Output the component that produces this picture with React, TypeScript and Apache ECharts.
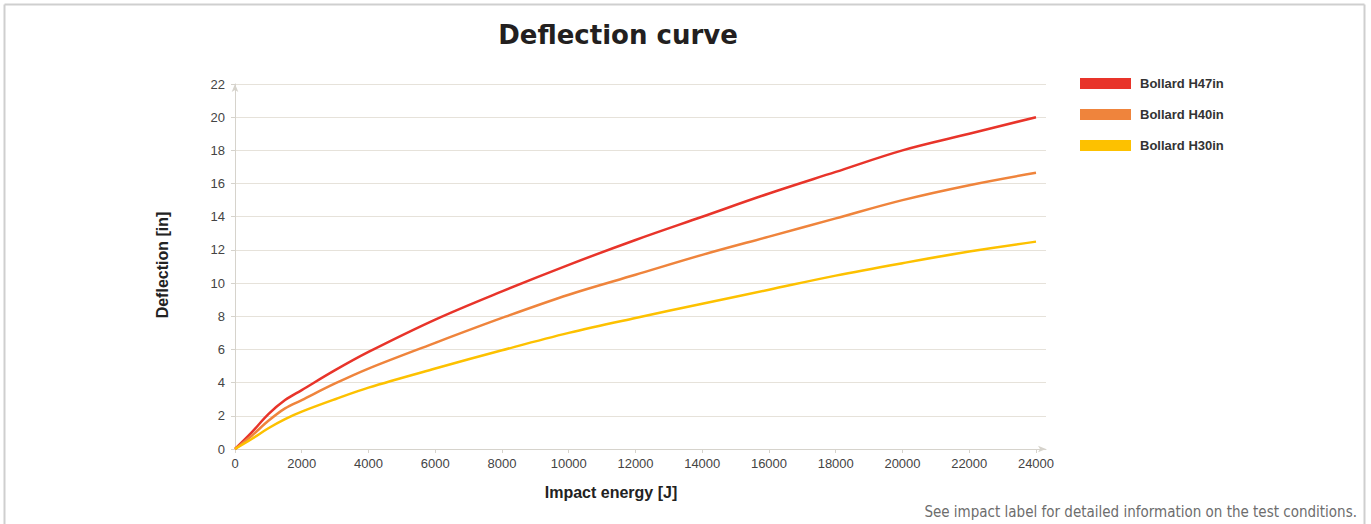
import React, { useEffect, useRef } from "react";
import * as echarts from "echarts";

const energy = [0, 500, 1000, 1500, 2000, 3000, 4000, 6000, 8000, 10000, 12000, 14000, 16000, 18000, 20000, 22000, 24000];
const h47 = [0, 1.0, 2.1, 2.95, 3.55, 4.75, 5.85, 7.8, 9.5, 11.1, 12.6, 14.0, 15.4, 16.7, 18.0, 19.0, 20.0];
const h40 = [0, 0.8, 1.7, 2.45, 2.95, 3.95, 4.85, 6.4, 7.9, 9.3, 10.5, 11.7, 12.8, 13.9, 15.0, 15.9, 16.65];
const h30 = [0, 0.6, 1.25, 1.8, 2.25, 3.0, 3.7, 4.85, 5.95, 7.0, 7.9, 8.75, 9.6, 10.45, 11.2, 11.9, 12.5];
const seriesNames = ["Bollard H47in", "Bollard H40in", "Bollard H30in"];
const seriesColors = ["#e8342a", "#ef843c", "#fdc100"];
const xTicks = [0, 2000, 4000, 6000, 8000, 10000, 12000, 14000, 16000, 18000, 20000, 22000, 24000];
const title = "Deflection curve";
const xName = "Impact energy [J]";
const yName = "Deflection [in]";
const note = "See impact label for detailed information on the test conditions.";

export default function App() {
  const ref = useRef<HTMLDivElement>(null);
  useEffect(() => {
    document.body.style.margin = "0";
    const chart = echarts.init(ref.current!, null, { renderer: "svg" });
    const values = [h47, h40, h30];
    chart.setOption({
      animation: false,
      backgroundColor: "#ffffff",
      grid: { left: 235, right: 325, top: 84, bottom: 75, containLabel: false },
      legend: {
        orient: "vertical",
        left: 1075,
        top: 72,
        itemWidth: 51,
        itemHeight: 11,
        itemGap: 18,
        icon: "rect",
        textStyle: { fontFamily: "Liberation Sans", fontWeight: "bold", fontSize: 13, color: "#333", padding: [0, 0, 0, 4] },
        data: seriesNames,
      },
      xAxis: {
        type: "value",
        min: 0,
        max: 24300,
        interval: 2000,
        axisLine: { show: true, lineStyle: { color: "#d6d3cc", width: 1 }, symbol: ["none", "arrow"], symbolSize: [5, 8] },
        axisTick: { show: true, length: 4, lineStyle: { color: "#d6d3cc" }, customValues: xTicks },
        axisLabel: {
          customValues: xTicks,
          formatter: (v: number) => String(v),
          color: "#444",
          fontFamily: "Liberation Sans",
          fontSize: 13,
          margin: 8,
        },
        splitLine: { show: false },
      },
      yAxis: {
        type: "value",
        min: 0,
        max: 22,
        interval: 2,
        axisLine: { show: true, lineStyle: { color: "#d6d3cc", width: 1 }, symbol: ["none", "arrow"], symbolSize: [5, 8] },
        axisTick: { show: true, length: 4, lineStyle: { color: "#d6d3cc" } },
        axisLabel: { color: "#444", fontFamily: "Liberation Sans", fontSize: 13, margin: 10 },
        splitLine: { show: true, lineStyle: { color: "#e6e2da", width: 1 } },
      },
      series: seriesNames.map((name, k) => ({
        name,
        type: "line",
        smooth: 0.35,
        showSymbol: false,
        symbol: "none",
        color: seriesColors[k],
        lineStyle: { width: 2.5, color: seriesColors[k] },
        data: energy.map((e, i) => [e, values[k][i]]),
      })),
      graphic: [
        { type: "line", shape: { x1: 4.5, y1: 4.5, x2: 1364.5, y2: 4.5 }, style: { stroke: "#cfcfcf", lineWidth: 2 } },
        { type: "line", shape: { x1: 4.5, y1: 4.5, x2: 4.5, y2: 524 }, style: { stroke: "#cfcfcf", lineWidth: 2 } },
        { type: "line", shape: { x1: 1364.5, y1: 4.5, x2: 1364.5, y2: 524 }, style: { stroke: "#cfcfcf", lineWidth: 2 } },
        {
          type: "text",
          x: 618,
          y: 35,
          style: { text: title, align: "center", verticalAlign: "middle", fontFamily: "DejaVu Sans", fontWeight: "bold", fontSize: 26, fill: "#231f20" },
        },
        {
          type: "text",
          x: 611,
          y: 492,
          style: { text: xName, align: "center", verticalAlign: "middle", fontFamily: "Liberation Sans", fontWeight: "bold", fontSize: 16, fill: "#222" },
        },
        {
          type: "text",
          x: 162,
          y: 265,
          rotation: Math.PI / 2,
          style: { text: yName, align: "center", verticalAlign: "middle", fontFamily: "Liberation Sans", fontWeight: "bold", fontSize: 16, fill: "#222" },
        },
        {
          type: "text",
          x: 1357,
          y: 512,
          style: { text: note, align: "right", verticalAlign: "middle", fontFamily: "DejaVu Sans Condensed", fontSize: 15, fill: "#6d6d6d" },
        },
      ],
    });
    return () => chart.dispose();
  }, []);
  return <div ref={ref} style={{ width: 1371, height: 524 }} />;
}
